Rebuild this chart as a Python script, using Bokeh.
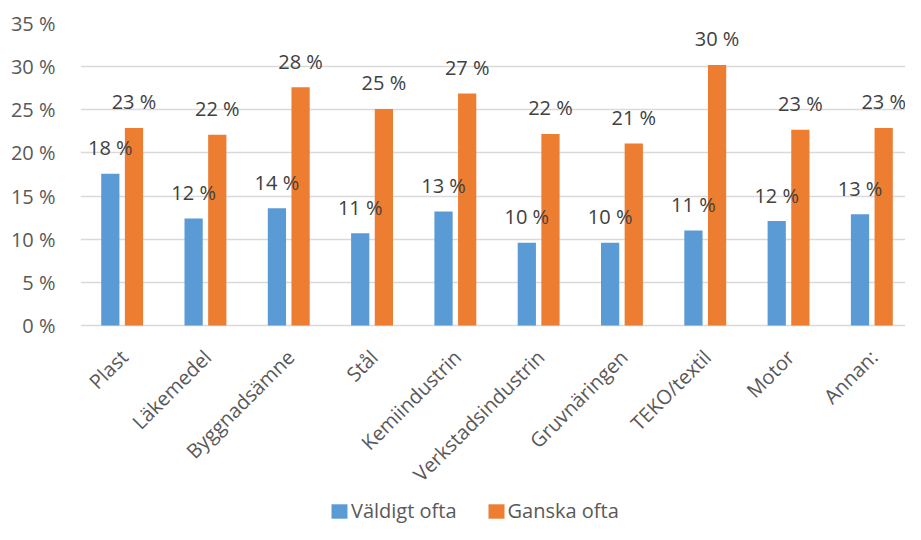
from math import pi
from bokeh.plotting import figure
from bokeh.models import (ColumnDataSource, Range1d, FixedTicker, Legend, LegendItem)
from bokeh.transform import dodge
from bokeh.core.properties import value
from bokeh.embed import file_html
from bokeh.resources import INLINE

categories = ["Plast", "Läkemedel", "Byggnadsämne", "Stål", "Kemiindustrin",
              "Verkstadsindustrin", "Gruvnäringen", "TEKO/textil", "Motor", "Annan:"]
valdigt_ofta = [17.6, 12.4, 13.6, 10.7, 13.2, 9.6, 9.6, 11.0, 12.1, 12.9]
ganska_ofta = [22.9, 22.1, 27.6, 25.1, 26.9, 22.2, 21.1, 30.2, 22.7, 22.9]
series_names = ["Väldigt ofta", "Ganska ofta"]
y_ticks = [0, 5, 10, 15, 20, 25, 30, 35]

FONT = "Open Sans"
FS = "20px"
TXT = "#595959"
LBL = "#404040"
BLUE = "#5b9bd5"
ORANGE = "#ed7d31"
GRID = "#d9d9d9"

pos = [i + 0.5 for i in range(len(categories))]
src = ColumnDataSource(dict(
    x=pos, v=valdigt_ofta, g=ganska_ofta, cat=categories, zero=[0] * len(pos),
    vl=[f"{int(a + 0.5)} %" for a in valdigt_ofta],
    gl=[f"{int(b + 0.5)} %" for b in ganska_ofta],
))

# frame reaches the bottom of the figure; the value scale keeps 0..35 in the top part
p = figure(frame_width=825, frame_height=501, output_backend="svg", toolbar_location=None,
           x_range=Range1d(0, 9.904), y_range=Range1d(-23.06, 35),
           x_axis_location=None,
           min_border_left=80, min_border_right=0, min_border_top=23, min_border_bottom=0)
p.outline_line_color = None
p.background_fill_color = "white"
p.border_fill_color = "white"

r1 = p.vbar(x=dodge("x", -0.142), top="v", bottom=0, width=0.219, source=src,
            fill_color=BLUE, line_color=None)
r2 = p.vbar(x=dodge("x", 0.142), top="g", bottom=0, width=0.219, source=src,
            fill_color=ORANGE, line_color=None)

for col, lab, off in (("v", "vl", -0.142), ("g", "gl", 0.142)):
    p.text(x=dodge("x", off), y=col, text=lab, source=src,
           text_font=value(FONT), text_font_size=FS, text_color=LBL,
           text_align="center", text_baseline="middle", y_offset=-26)

# category labels (rotated, ending under each category)
p.text(x="x", y="zero", text="cat", source=src, angle=pi / 4,
       text_font=value(FONT), text_font_size=FS, text_color=TXT,
       text_align="right", text_baseline="middle", x_offset=2, y_offset=28)

# y axis
p.yaxis.ticker = FixedTicker(ticks=y_ticks)
p.yaxis.major_label_overrides = {t: f"{t} %" for t in y_ticks}
p.yaxis.axis_line_color = None
p.yaxis.major_tick_line_color = None
p.yaxis.minor_tick_line_color = None
p.yaxis.major_label_standoff = 19
p.yaxis.major_label_text_font = FONT
p.yaxis.major_label_text_font_size = FS
p.yaxis.major_label_text_color = TXT

p.xgrid.grid_line_color = None
p.ygrid.grid_line_color = GRID
p.ygrid.grid_line_width = 1.5

legend = Legend(items=[LegendItem(label=series_names[0], renderers=[r1]),
                       LegendItem(label=series_names[1], renderers=[r2])],
                orientation="horizontal", location=(249, 0),
                border_line_color=None, background_fill_alpha=0,
                label_text_font=FONT, label_text_font_size=FS, label_text_color=TXT,
                label_height=18, glyph_width=20, glyph_height=18, label_standoff=2,
                spacing=29, padding=0, margin=0)
p.add_layout(legend, "center")

open("out.html", "w").write(file_html(p, INLINE))
